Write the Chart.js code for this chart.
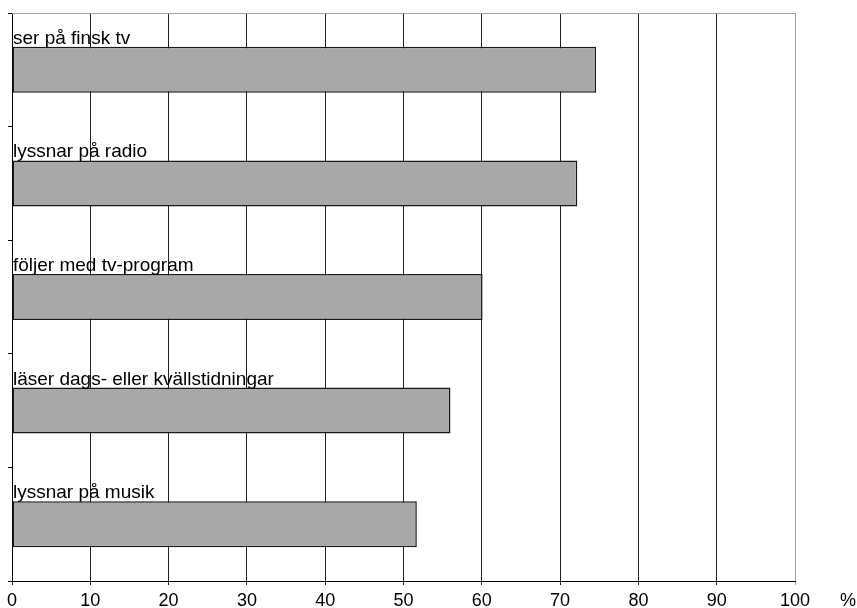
<!DOCTYPE html>
<html>
<head>
<meta charset="utf-8">
<script src="https://cdn.jsdelivr.net/npm/chart.js@4/dist/chart.umd.min.js"></script>
<style>
  html, body { margin: 0; padding: 0; background: #fff; }
  #wrap { width: 857px; height: 608px; position: relative; }
</style>
</head>
<body>
<div id="wrap"><canvas id="chart" width="857" height="608"></canvas></div>
<script>
const categories = [
    "ser på finsk tv",
    "lyssnar på radio",
    "följer med tv-program",
    "läser dags- eller kvällstidningar",
    "lyssnar på musik"
];
const values = [74.6, 72.2, 60.1, 56.0, 51.7];
const xTicks = [0, 10, 20, 30, 40, 50, 60, 70, 80, 90, 100];
const unitLabel = "%";

const FONT = "'Liberation Sans', Arial, sans-serif";

// category names sit just above each bar, plus frame and unit sign
const decorPlugin = {
    id: "decor",
    afterDatasetsDraw(chart) {
        const ctx = chart.ctx;
        const area = chart.chartArea;
        const meta = chart.getDatasetMeta(0);
        ctx.save();
        ctx.font = "19px " + FONT;
        ctx.fillStyle = "#000";
        ctx.textAlign = "left";
        ctx.textBaseline = "alphabetic";
        meta.data.forEach((bar, i) => {
            const top = bar.y - bar.height / 2;
            ctx.fillText(categories[i], area.left + 1, top - 3);
        });

        // grey frame on top and right
        ctx.strokeStyle = "#a0a0a0";
        ctx.lineWidth = 1;
        ctx.beginPath();
        ctx.moveTo(area.left, area.top + 0.5);
        ctx.lineTo(area.right + 0.5, area.top + 0.5);
        ctx.lineTo(area.right + 0.5, area.bottom);
        ctx.stroke();

        ctx.font = "18px " + FONT;
        ctx.fillText(unitLabel, 840, 606);
        ctx.restore();
    }
};

const ctx = document.getElementById("chart").getContext("2d");

new Chart(ctx, {
    type: "bar",
    data: {
        labels: categories,
        datasets: [{
            data: values,
            backgroundColor: "#a8a8a8",
            borderColor: "#1a1a1a",
            borderWidth: 1.5,
            borderSkipped: false,
            categoryPercentage: 1,
            barPercentage: 0.405
        }]
    },
    options: {
        indexAxis: "y",
        responsive: false,
        animation: false,
        devicePixelRatio: 1,
        layout: { padding: { top: 13, right: 62, left: 0, bottom: 0 } },
        plugins: {
            legend: { display: false },
            tooltip: { enabled: false }
        },
        scales: {
            x: {
                min: 0,
                max: 100,
                afterFit(scale) { scale.height = 27; },
                afterBuildTicks(scale) {
                    scale.ticks = xTicks.map(v => ({ value: v }));
                },
                grid: {
                    color: (c) => c.tick && c.tick.value === 100 ? "#a0a0a0" : "#222",
                    lineWidth: 1,
                    tickLength: 4,
                    drawTicks: true
                },
                border: { color: "#000", width: 1 },
                ticks: {
                    color: "#000",
                    font: { family: FONT, size: 18 },
                    padding: 5,
                    maxRotation: 0,
                    autoSkip: false
                }
            },
            y: {
                afterFit(scale) { scale.width = 12; },
                grid: {
                    drawOnChartArea: false,
                    tickLength: 4,
                    color: "#000"
                },
                border: { color: "#000", width: 1 },
                ticks: { display: false }
            }
        }
    },
    plugins: [decorPlugin]
});
</script>
</body>
</html>
